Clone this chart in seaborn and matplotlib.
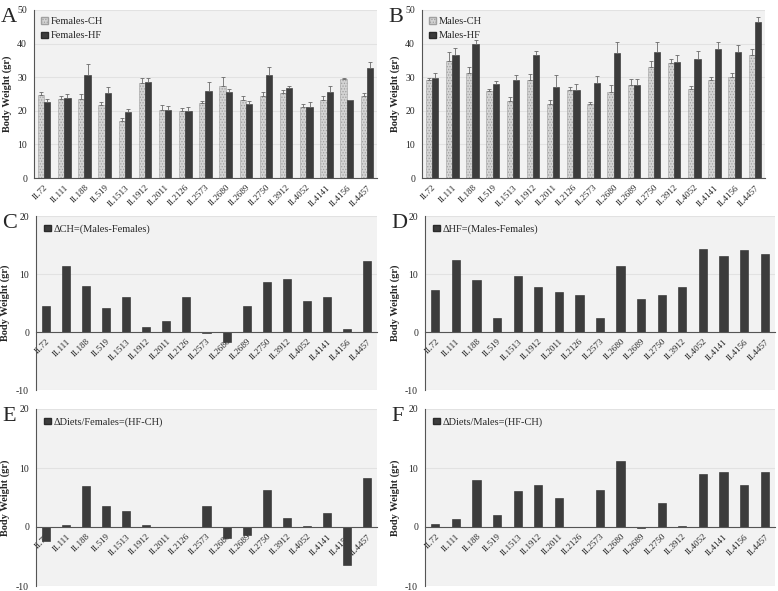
import numpy as np
import pandas as pd
import matplotlib
matplotlib.use("Agg")
import matplotlib.pyplot as plt
from matplotlib.patches import Patch
import seaborn as sns

lines = ["IL72", "IL111", "IL188", "IL519", "IL1513", "IL1912", "IL2011", "IL2126",
         "IL2573", "IL2680", "IL2689", "IL2750", "IL3912", "IL4052", "IL4141", "IL4156", "IL4457"]

# panel A - females
fem_ch = [24.7, 23.5, 23.6, 21.7, 17.0, 28.2, 20.1, 20.0, 22.2, 27.4, 23.3, 24.4, 25.3, 21.0, 23.2, 29.4, 24.5]
fem_ch_err = [0.8, 0.8, 1.3, 0.8, 0.8, 1.5, 1.5, 0.8, 0.7, 2.7, 1.2, 1.2, 1.0, 1.0, 1.1, 0.3, 0.8]
fem_hf = [22.6, 23.8, 30.6, 25.3, 19.7, 28.5, 20.1, 20.0, 25.8, 25.6, 22.0, 30.8, 26.8, 21.1, 25.5, 23.1, 32.8]
fem_hf_err = [1.0, 1.3, 3.4, 1.7, 0.8, 1.4, 1.2, 1.0, 2.8, 1.0, 1.0, 2.2, 0.6, 1.4, 2.0, 0.2, 1.8]

# panel B - males
male_ch = [29.3, 34.8, 31.3, 25.9, 23.0, 29.3, 21.9, 26.1, 21.9, 25.6, 27.8, 33.1, 34.1, 26.5, 29.1, 30.0, 36.7]
male_ch_err = [0.5, 2.8, 1.8, 0.6, 1.0, 1.8, 1.2, 1.0, 0.8, 2.0, 1.8, 1.8, 1.2, 0.8, 1.0, 1.2, 1.8]
male_hf = [29.9, 36.5, 39.8, 28.0, 29.3, 36.6, 27.0, 26.3, 28.3, 37.1, 27.8, 37.6, 34.6, 35.5, 38.5, 37.5, 46.3]
male_hf_err = [1.3, 2.3, 1.2, 0.8, 1.3, 1.3, 3.6, 1.6, 2.0, 3.4, 1.6, 2.8, 2.0, 2.2, 2.0, 2.0, 1.6]

# panels C-F - differences
d_ch_sex = [4.4, 11.4, 7.9, 4.1, 6.1, 0.9, 1.9, 6.1, -0.1, -1.65, 4.4, 8.6, 9.1, 5.4, 6.0, 0.5, 12.2]
d_hf_sex = [7.2, 12.5, 8.9, 2.4, 9.6, 7.8, 6.9, 6.3, 2.35, 11.3, 5.7, 6.4, 7.7, 14.3, 13.1, 14.1, 13.4]
d_diet_fem = [-2.3, 0.4, 7.0, 3.6, 2.7, 0.35, 0.05, -0.05, 3.6, -1.8, -1.4, 6.3, 1.5, 0.1, 2.3, -6.5, 8.3]
d_diet_male = [0.55, 1.4, 8.0, 2.0, 6.1, 7.2, 4.9, -0.05, 6.2, 11.2, -0.1, 4.1, 0.2, 8.9, 9.3, 7.2, 9.4]

sns.set_style("white")
plt.rcParams["font.family"] = ["Liberation Serif", "DejaVu Serif"]
plt.rcParams["hatch.linewidth"] = 0.6
plt.rcParams["axes.unicode_minus"] = False

BG = "#f2f2f2"
DARK = "#3c3c3c"
LIGHT = "#d4d4d4"

fig = plt.figure(figsize=(7.78, 5.91), dpi=100)
W, H = 778, 591


def add_ax(l, t, r, b):
    return fig.add_axes([l / W, 1 - b / H, (r - l) / W, (b - t) / H])


def style(ax, ylim, ticks):
    ax.set_facecolor(BG)
    ax.set_ylim(*ylim)
    ax.set_yticks(ticks)
    ax.yaxis.grid(True, color="#e2e2e2", linewidth=0.8)
    ax.set_axisbelow(True)
    for s in ["top", "right"]:
        ax.spines[s].set_visible(False)
    ax.spines["left"].set_color("#555")
    ax.spines["bottom"].set_color("#555")
    ax.spines["left"].set_linewidth(0.8)
    ax.spines["bottom"].set_linewidth(0.8)
    ax.tick_params(axis="y", labelsize=7, length=3, width=0.6, color="#555", direction="out", pad=2)
    ax.set_xlim(-0.5, len(lines) - 0.5)
    ax.set_xticks(range(len(lines)))
    ax.set_xticklabels(lines, rotation=45, ha="right", rotation_mode="anchor", fontsize=6.5)
    ax.set_xticks(np.arange(-0.5, len(lines), 1.0), minor=True)
    ax.tick_params(axis="x", which="major", length=0, pad=4)
    ax.tick_params(axis="x", which="minor", length=3, width=0.6, color="#555", direction="out")
    ax.set_xlabel("")
    ax.set_ylabel("Body Weight (gr)", fontsize=7.5, fontweight="bold", labelpad=4)


def panel_letter(ax, letter):
    x0 = ax.get_position().x0 * W
    fig.text(max(x0 - 34, 1) / W, ax.get_position().y1 + 0.004, letter,
             fontsize=16, va="top", ha="left")


def paired(ax, ch, ch_err, hf, hf_err, names, letter):
    df = pd.DataFrame({
        "line": lines * 2,
        "weight": ch + hf,
        "group": [names[0]] * len(lines) + [names[1]] * len(lines),
    })
    sns.barplot(data=df, x="line", y="weight", hue="group", order=lines,
                palette=[LIGHT, DARK], width=0.62, gap=0, ax=ax, legend=False,
                edgecolor="#2a2a2a", linewidth=0.4)
    for bar in ax.containers[0]:
        bar.set_hatch("......")
        bar.set_edgecolor("#a0a0a0")
    for cont, err in zip(ax.containers[:2], [ch_err, hf_err]):
        xs = [b.get_x() + b.get_width() / 2 for b in cont]
        ys = [b.get_height() for b in cont]
        ax.errorbar(xs, ys, yerr=[np.zeros(len(err)), err], fmt="none",
                    ecolor="#6a6a6a", elinewidth=0.6, capsize=1.3, capthick=0.6)
    style(ax, (0, 50), [0, 10, 20, 30, 40, 50])
    handles = [Patch(facecolor=LIGHT, edgecolor="#a0a0a0", hatch="......", label=names[0]),
               Patch(facecolor=DARK, edgecolor="#2a2a2a", label=names[1])]
    ax.legend(handles=handles, loc="upper left", frameon=False, fontsize=7.5,
              handlelength=0.6, handleheight=0.6, handletextpad=0.3,
              borderaxespad=0.3, labelspacing=0.5)
    panel_letter(ax, letter)


def single(ax, vals, name, letter):
    df = pd.DataFrame({"line": lines, "delta": vals})
    sns.barplot(data=df, x="line", y="delta", order=lines, color=DARK, width=0.4,
                ax=ax, edgecolor="#2a2a2a", linewidth=0.4, saturation=1)
    # move the category axis onto the zero line before styling the ticks
    ax.spines["bottom"].set_position(("data", 0))
    style(ax, (-10, 20), [-10, 0, 10, 20])
    handles = [Patch(facecolor=DARK, edgecolor="#2a2a2a", label=name)]
    ax.legend(handles=handles, loc="upper left", frameon=False, fontsize=7.5,
              handlelength=0.6, handleheight=0.6, handletextpad=0.3, borderaxespad=0.4)
    panel_letter(ax, letter)


axA = add_ax(34, 10, 377, 178)
axB = add_ax(422, 10, 765, 178)
axC = add_ax(36, 216, 377, 390)
axD = add_ax(425, 216, 775, 390)
axE = add_ax(36, 409, 377, 586)
axF = add_ax(425, 409, 775, 586)

paired(axA, fem_ch, fem_ch_err, fem_hf, fem_hf_err, ["Females-CH", "Females-HF"], "A")
paired(axB, male_ch, male_ch_err, male_hf, male_hf_err, ["Males-CH", "Males-HF"], "B")
single(axC, d_ch_sex, "\u0394CH=(Males-Females)", "C")
single(axD, d_hf_sex, "\u0394HF=(Males-Females)", "D")
single(axE, d_diet_fem, "\u0394Diets/Females=(HF-CH)", "E")
single(axF, d_diet_male, "\u0394Diets/Males=(HF-CH)", "F")

fig.savefig("out.png", dpi=100)
